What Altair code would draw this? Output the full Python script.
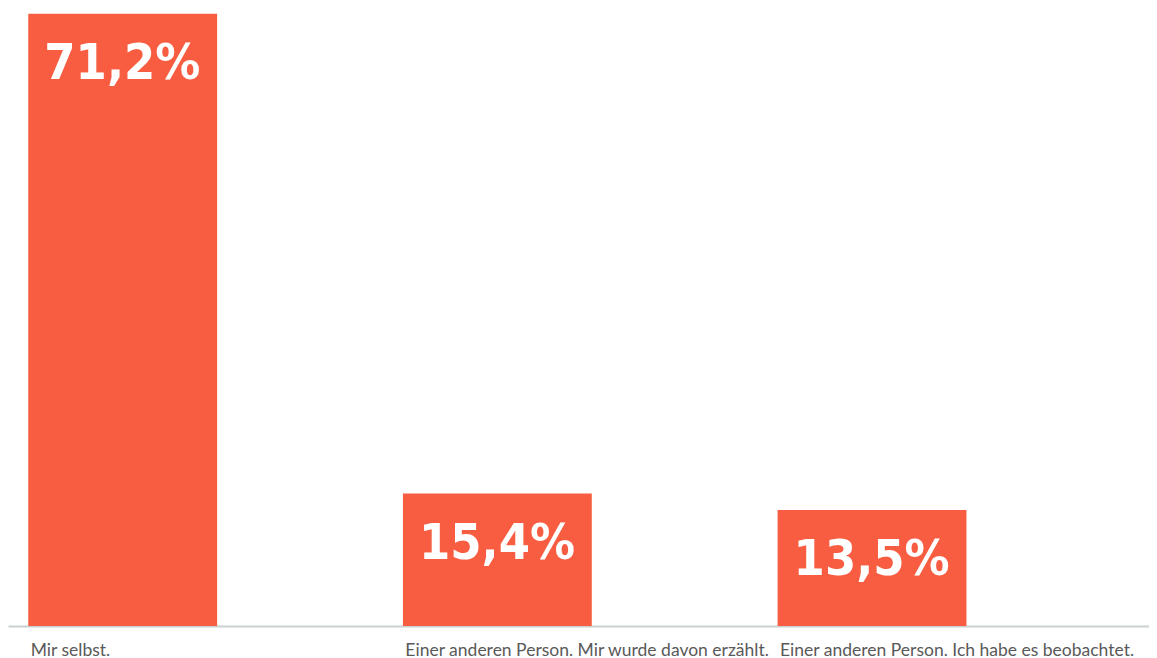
import altair as alt
import pandas as pd

categories = [
    "Mir selbst.",
    "Einer anderen Person. Mir wurde davon erzählt.",
    "Einer anderen Person. Ich habe es beobachtet.",
]
values = [71.2, 15.4, 13.5]
value_labels = ["71,2%", "15,4%", "13,5%"]

df = pd.DataFrame({"cat": categories, "val": values, "lab": value_labels})

BAR = "#F95D41"

x_scale = alt.Scale(paddingInner=0.496, paddingOuter=0.2707, align=0.1)
y_scale = alt.Scale(domain=[0, 71.86], nice=False)

x_axis = alt.Axis(
    labelAngle=0,
    labelAlign="left",
    labelBaseline="alphabetic",
    labelPadding=29,
    labelOffset=-92,
    labelFont="Lato",
    labelFontSize=17.5,
    labelColor="#595959",
    ticks=False,
    tickSize=0,
    domainColor="#C9D1CE",
    domainWidth=2,
    grid=False,
    labelLimit=500,
)

bars = alt.Chart(df).mark_bar(color=BAR).encode(
    x=alt.X("cat:N", sort=categories, title=None, scale=x_scale, axis=x_axis),
    y=alt.Y("val:Q", title=None, scale=y_scale, axis=None),
)

text = alt.Chart(df).mark_text(
    align="left",
    baseline="alphabetic",
    font="DejaVu Sans Condensed",
    fontWeight="bold",
    fontSize=50,
    color="white",
    dx=16,
    dy=65,
).encode(
    x=alt.X("cat:N", sort=categories, bandPosition=0, title=None, scale=x_scale),
    y=alt.Y("val:Q", scale=y_scale, axis=None),
    text="lab:N",
)

chart = (
    alt.layer(bars, text)
    .properties(
        width=1141,
        height=618,
        padding={"left": 0, "top": 0, "right": 0, "bottom": 0},
        view=alt.ViewBackground(stroke="transparent", strokeWidth=0),
    )
    .configure_view(stroke="transparent", strokeWidth=0)
    .configure(background="white")
)

chart.save("out.html", embed_options={"renderer": "svg", "actions": False})
